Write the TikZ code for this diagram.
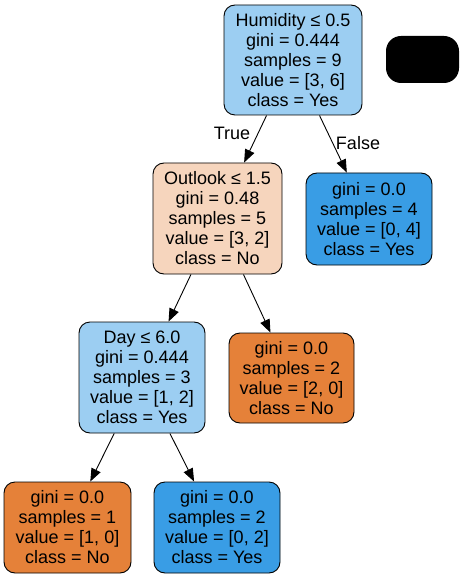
\documentclass[tikz,border=0pt]{standalone}
\usepackage{fontspec}
\setmainfont{Liberation Sans}
\usetikzlibrary{arrows.meta}
\definecolor{yeslight}{HTML}{9CCEF2}
\definecolor{yesfull}{HTML}{399DE5}
\definecolor{nolight}{HTML}{F6D5BD}
\definecolor{nofull}{HTML}{E58139}
\tikzset{
  tree/.style={draw=black, line width=0.9pt, rounded corners=11pt, inner sep=0pt,
    align=center, font=\fontsize{18}{20}\selectfont},
  edge/.style={line width=0.9pt, -{Triangle[length=13pt,width=10pt]}},
  lbl/.style={font=\fontsize{18}{20}\selectfont, inner sep=0pt}
}
\begin{document}
\begin{tikzpicture}[x=1pt,y=-1pt]
\useasboundingbox (0,0) rectangle (464,577);
% split nodes and leaves
\node[tree, fill=yeslight, minimum width=138pt, minimum height=110pt] (root) at (293,60)
  {Humidity ≤ 0.5\\gini = 0.444\\samples = 9\\value = [3, 6]\\class = Yes};
\node[fill=black, rounded corners=15pt, minimum width=73pt, minimum height=47pt, inner sep=0pt] (legend) at (422.5,59.5) {};
\node[tree, fill=nolight, minimum width=129pt, minimum height=111pt] (outlook) at (217.5,218.5)
  {Outlook ≤ 1.5\\gini = 0.48\\samples = 5\\value = [3, 2]\\class = No};
\node[tree, fill=yesfull, minimum width=126pt, minimum height=92pt] (leafA) at (369,219)
  {gini = 0.0\\samples = 4\\value = [0, 4]\\class = Yes};
\node[tree, fill=yeslight, minimum width=126pt, minimum height=111pt] (day) at (142,377.5)
  {Day ≤ 6.0\\gini = 0.444\\samples = 3\\value = [1, 2]\\class = Yes};
\node[tree, fill=nofull, minimum width=125pt, minimum height=90pt] (leafB) at (291.5,378)
  {gini = 0.0\\samples = 2\\value = [2, 0]\\class = No};
\node[tree, fill=nofull, minimum width=127pt, minimum height=91pt] (leafC) at (67.5,527.5)
  {gini = 0.0\\samples = 1\\value = [1, 0]\\class = No};
\node[tree, fill=yesfull, minimum width=126pt, minimum height=91pt] (leafD) at (217,527.5)
  {gini = 0.0\\samples = 2\\value = [0, 2]\\class = Yes};
% branches
\draw[edge] (root) -- (outlook);
\draw[edge] (root) -- (leafA);
\draw[edge] (outlook) -- (day);
\draw[edge] (outlook) -- (leafB);
\draw[edge] (day) -- (leafC);
\draw[edge] (day) -- (leafD);
% branch labels
\node[lbl] (tlabel) at (232,133) {True};
\node[lbl] (flabel) at (358,143) {False};
\end{tikzpicture}
\end{document}
